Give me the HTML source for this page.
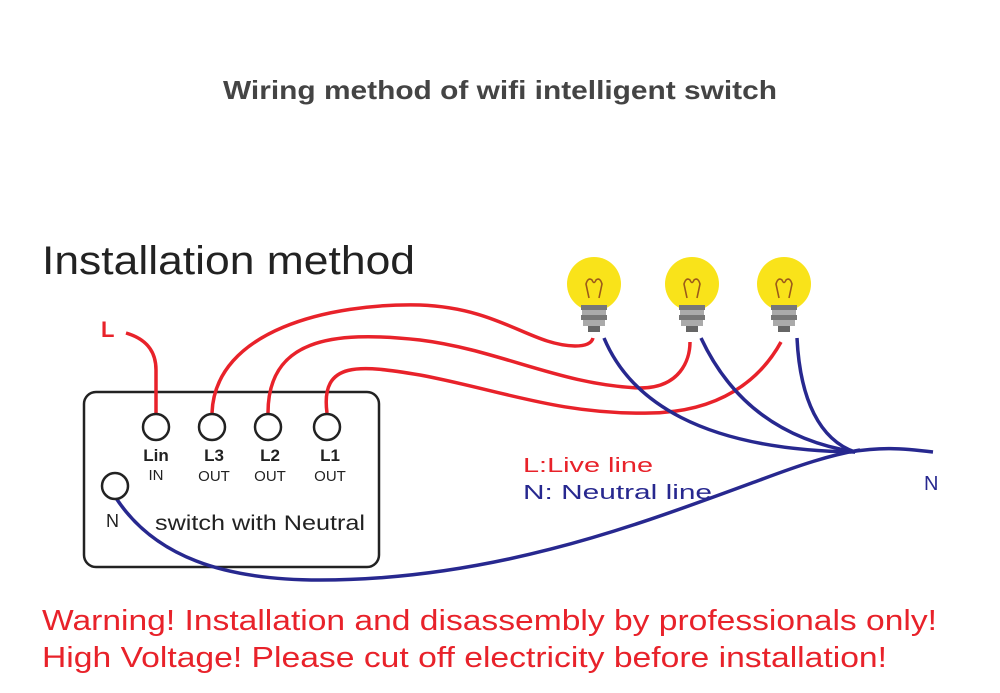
<!DOCTYPE html>
<html><head><meta charset="utf-8"><style>html,body{margin:0;padding:0;background:#fff}svg{display:block}</style></head>
<body>
<svg width="1000" height="693" viewBox="0 0 1000 693" xmlns="http://www.w3.org/2000/svg" font-family="Liberation Sans, sans-serif">
<rect width="1000" height="693" fill="#fff"/>
<text x="223" y="99" font-size="26" font-weight="bold" fill="#444" textLength="554" lengthAdjust="spacingAndGlyphs">Wiring method of wifi intelligent switch</text>
<text x="42" y="274" font-size="40" fill="#222" textLength="373" lengthAdjust="spacingAndGlyphs">Installation method</text>
<text x="101" y="337" font-size="22" font-weight="bold" fill="#e8222a">L</text>
<!-- box -->
<rect x="84" y="392" width="295" height="175" rx="12" fill="none" stroke="#222" stroke-width="2.5"/>
<!-- red wires -->
<g fill="none" stroke="#e8222a" stroke-width="3.5">
<path d="M126,333 C150,340 156,355 156,370 L156,414"/>
<path d="M212,413 C215,330 330,303 420,305 C500,308 530,345 575,346 C588,346 592,342 593,338"/>
<path d="M268,413 C268,340 330,330 420,340 C500,350 560,385 640,388 C680,388 690,360 690,342"/>
<path d="M327,413 C320,360 360,365 420,375 C500,390 560,415 650,413 C720,412 760,380 781,342"/>
</g>
<!-- blue wires -->
<g fill="none" stroke="#27288f" stroke-width="3.5">
<path d="M604,338 C630,400 700,450 855,452"/>
<path d="M701,338 C730,400 780,440 855,452"/>
<path d="M797,338 C800,400 820,440 855,452"/>
<path d="M850,452 C880,447 900,448 933,452"/>
<path d="M110,488 C150,560 230,580 320,580 C500,580 650,520 760,480 C800,465 830,455 860,450"/>
</g>
<!-- terminals -->
<g fill="#fff" stroke="#222" stroke-width="2.5">
<circle cx="156" cy="427" r="13"/><circle cx="212" cy="427" r="13"/><circle cx="268" cy="427" r="13"/><circle cx="327" cy="427" r="13"/><circle cx="115" cy="486" r="13"/>
</g>
<g font-size="17" font-weight="bold" fill="#222" text-anchor="middle">
<text x="156" y="461">Lin</text><text x="214" y="461">L3</text><text x="270" y="461">L2</text><text x="330" y="461">L1</text></g>
<g font-size="15" fill="#222" text-anchor="middle">
<text x="156" y="480">IN</text><text x="214" y="481">OUT</text><text x="270" y="481">OUT</text><text x="330" y="481">OUT</text></g>
<text x="106" y="527" font-size="18" fill="#222">N</text>
<text x="155" y="530" font-size="21" fill="#222" textLength="210" lengthAdjust="spacingAndGlyphs">switch with Neutral</text>
<!-- bulbs -->
<g id="b">
<circle cx="594" cy="284" r="27" fill="#f9e31a"/>
<path d="M582,298 L586,304 L602,304 L606,298 Z" fill="#f9e31a"/>
<path d="M589,298 L586,284 Q588,277 592,280 Q594,285 596,280 Q600,277 602,284 L599,298" fill="none" stroke="#9b5a1a" stroke-width="1.6"/>
<rect x="581" y="305" width="26" height="5" fill="#777"/>
<rect x="582" y="310" width="24" height="5" fill="#aaa"/>
<rect x="581" y="315" width="26" height="5" fill="#777"/>
<rect x="583" y="320" width="22" height="6" fill="#aaa"/>
<rect x="588" y="326" width="12" height="6" fill="#666"/>
</g>
<use href="#b" x="98"/>
<use href="#b" x="190"/>
<text x="523" y="472" font-size="20" fill="#e8222a" textLength="130" lengthAdjust="spacingAndGlyphs">L:Live line</text>
<text x="523" y="499" font-size="20" fill="#27288f" textLength="189" lengthAdjust="spacingAndGlyphs">N: Neutral line</text>
<text x="924" y="490" font-size="20" fill="#27288f">N</text>
<text x="42" y="630" font-size="29" fill="#e8222a" textLength="895" lengthAdjust="spacingAndGlyphs">Warning! Installation and disassembly by professionals only!</text>
<text x="42" y="667" font-size="29" fill="#e8222a" textLength="845" lengthAdjust="spacingAndGlyphs">High Voltage! Please cut off electricity before installation!</text>
</svg>
</body></html>
